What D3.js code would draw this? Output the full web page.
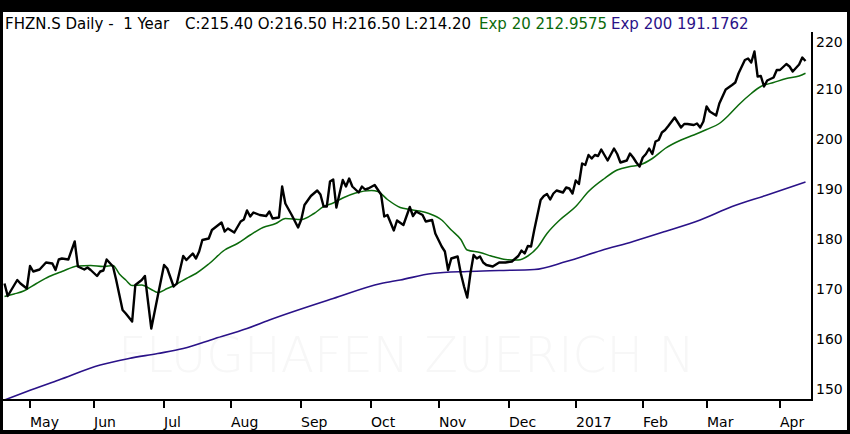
<!DOCTYPE html>
<html>
<head>
	<meta charset="utf-8">
	<title>FHZN.S Daily</title>
	<style>
		body { margin: 0; background: #000; }
		svg { display: block; font-family: "DejaVu Sans", Verdana, sans-serif; }
	</style>
</head>
<body>
	<svg id="chart" width="850" height="434"></svg>
</body>
<script src="https://d3js.org/d3.v7.min.js"></script>
<script>
	// trading day number (0 = 20 Apr 2016) and value
	let price = [
		[0,170.9],[1,168.4],[4,171.6],[5,170.9],[7,169.9],[8,174.4],[9,173.3],[11,173.7],[13,175.1],
		[15,174.9],[16,173.6],[17,175.7],[18,175.9],[20,175.7],[22,179.3],[23,174.3],[25,173.7],
		[26,174.1],[27,173.6],[29,172.4],[30,173.3],[31,173.5],[32,175.7],[34,174.3],[35,171.6],
		[37,165.6],[38,164.9],[40,163.3],[41,170.6],[43,171.6],[44,172.4],[46,161.9],[48,168.3],
		[50,174.6],[51,173.9],[53,170.3],[54,170.9],[56,176.4],[57,175.6],[59,176.9],[60,175.9],
		[61,177.3],[62,179.6],[64,179.9],[65,181.6],[68,183.1],[69,181.3],[70,181.9],[72,181.1],
		[74,183.3],[75,183.7],[76,185.5],[77,184.3],[78,185.1],[80,184.6],[82,184.4],[83,185.3],
		[84,183.9],[86,184.1],[87,190.3],[88,186.9],[90,184.6],[92,182.1],[93,183.7],[94,186.6],
		[96,188.4],[98,189.5],[99,188.7],[100,186.3],[101,186.3],[102,191.3],[103,191.7],[104,186.1],
		[105,188.9],[106,191.6],[107,190.3],[108,191.9],[109,190.3],[111,189.1],[112,190.3],
		[113,189.7],[114,189.9],[116,190.6],[118,188.7],[119,184.3],[120,184.6],[122,181.5],
		[123,183.5],[125,182.6],[127,186.2],[128,184.4],[129,185.3],[131,184.6],[132,183.3],
		[134,183.6],[135,180.9],[137,178.3],[138,177.3],[139,173.6],[140,175.9],[142,176.3],
		[143,172.9],[144,170.3],[145,168.1],[146,172.9],[147,176.6],[148,175.9],[149,176.3],
		[150,175.1],[151,174.6],[153,174.3],[155,175.1],[157,175.1],[159,175.3],[161,176.4],
		[162,177.5],[163,176.9],[164,178.4],[165,178.3],[166,181.6],[168,187.6],[169,188.4],
		[170,188.8],[171,187.7],[172,188.9],[173,189.5],[175,189.1],[176,190.1],[177,189.9],
		[178,188.9],[179,191.5],[180,190.8],[181,194.9],[182,194.6],[183,196.6],[184,195.9],
		[185,196.6],[186,196.4],[187,197.7],[188,196.6],[189,195.5],[191,197.9],[192,196.8],
		[193,195.1],[195,195.5],[196,196.9],[197,196.1],[198,195.1],[199,194.3],[200,196.1],
		[201,196.8],[202,197.9],[203,196.8],[204,199.3],[205,199.6],[206,201.1],[207,201.6],
		[208,202.4],[210,204.1],[211,203.1],[212,202.1],[213,202.8],[214,202.8],[216,202.6],
		[217,202.9],[218,202.1],[219,203.3],[220,206.3],[221,205.3],[223,204.5],[224,206.9],
		[226,209.7],[228,210.6],[229,211.1],[230,212.9],[232,215.6],[233,215.9],[234,215.1],
		[235,217.3],[236,212.3],[237,212.4],[238,210.3],[239,211.5],[241,212.1],[242,213.6],
		[243,213.6],[245,214.8],[246,214.3],[247,213.3],[249,214.7],[250,216.1],[251,215.4]
	]

	let exp20 = [
		[0,168.3],[3,168.8],[6,169.4],[10,170.9],[14,172.3],[18,173.3],[23,174.4],[27,174.5],
		[31,174.3],[34,174.5],[36,172.8],[38,171.6],[40,170.5],[43,170.6],[46,169.7],[48,169.1],
		[51,169.9],[54,170.8],[57,171.9],[60,172.9],[64,174.8],[69,177.6],[73,178.9],[77,180.6],
		[81,182.1],[85,182.9],[88,183.9],[93,183.7],[97,184.9],[100,186.3],[103,187.0],[106,188.0],
		[110,189.0],[115,189.5],[117,189.3],[120,187.7],[124,186.1],[127,185.7],[130,185.4],
		[133,184.9],[137,183.6],[140,181.6],[143,179.7],[145,177.6],[149,177.1],[153,176.3],
		[157,175.7],[161,175.6],[164,176.4],[167,178.1],[170,180.9],[174,183.6],[179,186.3],
		[183,189.3],[188,191.9],[192,193.6],[196,194.3],[199,194.6],[203,195.9],[207,197.9],
		[212,199.6],[216,200.6],[220,201.7],[224,202.9],[227,204.6],[230,206.6],[234,208.9],
		[237,210.3],[241,211.1],[245,211.9],[249,212.4],[251,212.96]
	]

	let exp200 = [
		[0,147.6],[7,149.3],[17,151.6],[30,154.6],[39,155.9],[48,156.9],[56,157.9],[66,159.9],
		[76,161.9],[83,163.6],[103,167.9],[118,170.9],[124,171.6],[134,172.9],[145,173.3],
		[155,173.5],[166,173.7],[176,175.3],[187,177.5],[197,179.3],[207,181.3],[218,183.6],
		[228,186.3],[239,188.6],[251,191.18]
	]

	let monthLabels = ["May","Jun","Jul","Aug","Sep","Oct","Nov","Dec","2017","Feb","Mar","Apr"]
	let monthDays = [8,28,50,71,93,115,136,158,179,200,220,243]
	let yTicks = [150,160,170,180,190,200,210,220]

	let titleParts = [
		{text: "FHZN.S Daily -  1 Year", color: "#000", x: 5},
		{text: "C:215.40 O:216.50 H:216.50 L:214.20", color: "#000", x: 185},
		{text: "Exp 20 212.9575", color: "#0b6a0b", x: 479},
		{text: "Exp 200 191.1762", color: "#2a1288", x: 611}
	]

	let svg = d3.select("#chart")

	// black frame + white page
	svg.append("rect").attr("width", 850).attr("height", 434).attr("fill", "#000")
	svg.append("rect").attr("x", 3).attr("y", 12).attr("width", 844).attr("height", 418).attr("fill", "#fff")

	let x = d3.scaleLinear().domain([0, 251]).range([4.5, 805.5])
	let y = d3.scaleLinear().domain([147.6, 221.2]).range([400, 32])

	// watermark
	svg.append("text")
		.attr("x", 118).attr("y", 372)
		.attr("textLength", 577).attr("lengthAdjust", "spacingAndGlyphs")
		.attr("font-size", 50).attr("font-weight", 200)
		.attr("fill", "#f7f7f7")
		.text("FLUGHAFEN ZUERICH N")

	let line = d3.line().x(d => x(d[0])).y(d => y(d[1]))
	let smooth = d3.line().curve(d3.curveMonotoneX).x(d => x(d[0])).y(d => y(d[1]))

	svg.append("path").datum(exp200)
		.attr("d", smooth).attr("fill", "none")
		.attr("stroke", "#2a1288").attr("stroke-width", 1.6)

	svg.append("path").datum(exp20)
		.attr("d", smooth).attr("fill", "none")
		.attr("stroke", "#0b6a0b").attr("stroke-width", 1.5)

	svg.append("path").datum(price)
		.attr("d", line).attr("fill", "none")
		.attr("stroke", "#000").attr("stroke-width", 2.4)
		.attr("stroke-linejoin", "round")

	// axes lines
	svg.append("line").attr("x1", 3).attr("x2", 813).attr("y1", 400).attr("y2", 400)
		.attr("stroke", "#000").attr("stroke-width", 2)
	svg.append("line").attr("x1", 812).attr("x2", 812).attr("y1", 32).attr("y2", 401)
		.attr("stroke", "#000").attr("stroke-width", 2)

	// month ticks
	let xt = svg.append("g")
	xt.selectAll("line").data(monthDays).enter().append("line")
		.attr("x1", d => Math.round(x(d))).attr("x2", d => Math.round(x(d)))
		.attr("y1", 400).attr("y2", 408)
		.attr("stroke", "#000").attr("stroke-width", 2)
	xt.selectAll("text").data(monthDays).enter().append("text")
		.attr("x", d => Math.round(x(d)))
		.attr("y", 426.5)
		.attr("font-size", 14)
		.text((d, i) => monthLabels[i])

	// price labels
	svg.append("g").selectAll("text").data(yTicks).enter().append("text")
		.attr("x", 816)
		.attr("y", d => d == 220 ? y(d) + 8.5 : y(d) + 5.5)
		.attr("font-size", 14)
		.text(d => d)

	// title
	svg.append("g").selectAll("text").data(titleParts).enter().append("text")
		.attr("x", d => d.x).attr("y", 29)
		.attr("font-size", 15)
		.attr("fill", d => d.color)
		.style("white-space", "pre")
		.text(d => d.text)
</script>
</html>
